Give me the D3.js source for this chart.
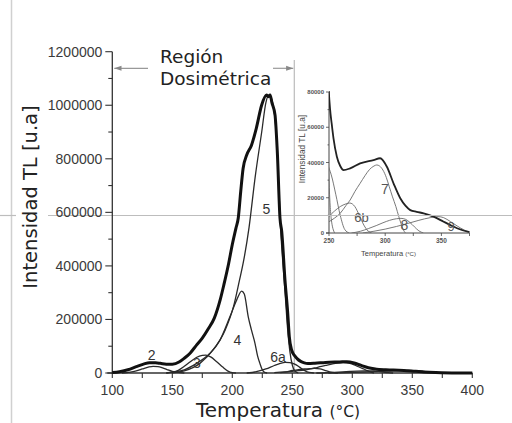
<!DOCTYPE html>
<html><head><meta charset="utf-8">
<script src="https://cdn.jsdelivr.net/npm/d3@7"></script>
<style>body{margin:0;background:#fff}svg{display:block}</style>
</head><body>
<svg id="c" width="512" height="423"></svg>
<script>
// ---- data (temperature °C, intensity u.a.) ----
const xTicksMain = [100,150,200,250,300,350,400];
const yTicksMain = [0,200000,400000,600000,800000,1000000,1200000];
const xTicksInset = [250,300,350];
const yTicksInset = [0,20000,40000,60000,80000];

const totalT = [100,106,113,120,126,131,136,140,145,150,156,160,165,170,175,180,185,190,193,197,200,203,205,207,209,212,216,220,224.5,228.5,230,231.5,233,235.6,237.5,239.75,241.2,243.9,246.2,247.5,249.5,251,252.4,254,257,260,263,268.8,277.7,289.6,295.5,301.5,307.4,313.4,318,322.3,328,334.2,343,352,358,363.9,374.3,385,395,400];
const totalV = [1500,5000,12000,23500,33000,38500,38000,36000,33000,33000,42000,55000,75000,103000,130000,165000,205000,275000,330000,410000,480000,540000,580000,677000,764000,814000,851000,914000,1001000,1038000,1032000,1038000,1010000,964000,827000,578000,528000,347000,223000,136000,85000,70000,62000,53700,43300,38000,35700,36700,39500,41400,42400,37600,28200,19700,15500,13000,12000,11200,9300,6400,4500,2700,700,200,0,0];

const p2T = [108,115,120,125,130,134,138,142,146,150,155,160];
const p2V = [0,3000,8000,15000,22000,25000,24000,19000,12000,6000,2000,0];

const p3T = [145,150,155,160,165,170,175,178,182,187,192,196,200,203];
const p3V = [0,3000,10000,25000,42000,58000,66000,67000,60000,42000,22000,8000,1000,0];

const p4T = [145,150,160,170.3,181.4,189.75,198,203.7,207.8,210,213.3,216,218.9,221,223,225,227,229];
const p4V = [0,3000,12000,36000,73600,123000,210000,273000,306000,295000,210000,160000,111000,65000,36000,12000,2000,0];

const p5T = [150,160,173,184,194,201,206,209,214,219,224.5,228,230,232,236,238,240,242,244,246,248,250,252,255];
const p5V = [1000,8000,36000,86000,160000,248000,347000,409000,545000,730000,900000,1010000,1035000,1030000,930000,780000,560000,420000,300000,170000,80000,30000,8000,0];

const p6aT = [212,220,228,235,240,244,248,252,256,260,264,268];
const p6aV = [0,5000,15000,28000,36000,40000,39000,33000,22000,10000,2000,0];

const p6bT = [240,245,250,255,260,265,268.5,273,277,281,285,288];
const p6bV = [1500,4000,9300,12500,15000,16500,17000,15000,10000,4500,1000,0];

const p7T = [235,240,245,250,255,260,265,268.8,273,277.7,282,286,290,292.5,295,298,301,303.6,306.5,309.5,312,314,316,318];
const p7V = [1500,3000,4500,6400,8500,11200,15500,18700,23500,28200,32500,36000,38000,38600,38000,35700,31500,26300,20500,15000,9500,5500,2000,0];

const p8T = [270,278,285,292,298,304,310,314,318,322,326,330,334];
const p8V = [0,1000,2500,4200,5800,7200,8100,8300,7800,6000,3500,1200,0];

const p9T = [280,290,300,310,320,330,340,347,352,358,364,370,375];
const p9V = [0,1000,2200,3700,5400,7200,8700,9300,8700,6500,4000,1800,500];

const mainLabels = ["2","3","4","5","6a"];
const insetLabels = ["6b","7","8","9"];

// ---- drawing ----
const svg = d3.select("#c");
const FONT_SANS = "DejaVu Sans, Verdana, sans-serif";
const FONT_AX = "Liberation Sans, Arial, sans-serif";

const zip = (t,v) => t.map((d,i)=>[d,v[i]]);

// page decorations
svg.append("line").attr("x1",11.5).attr("x2",11.5).attr("y1",0).attr("y2",423).attr("stroke","#d0d0d0").attr("stroke-width",1.5);
svg.append("line").attr("x1",0).attr("x2",16).attr("y1",215.5).attr("y2",215.5).attr("stroke","#bdbdbd").attr("stroke-width",1.2);
svg.append("line").attr("x1",48).attr("x2",512).attr("y1",215.5).attr("y2",215.5).attr("stroke","#bdbdbd").attr("stroke-width",1.2);

// main scales
const x = d3.scaleLinear().domain([100,400]).range([112.3,472.3]);
const y = d3.scaleLinear().domain([0,1200000]).range([373,51.7]);

// region line
svg.append("line").attr("x1",x(250)+2).attr("x2",x(250)+2).attr("y1",60).attr("y2",373).attr("stroke","#bbb").attr("stroke-width",1.2);

// axes
const yAxis = d3.axisLeft(y).tickValues(d3.range(0,1200001,100000)).tickSize(0).tickFormat(d => yTicksMain.includes(d) ? d : "");
const gy = svg.append("g").attr("transform",`translate(${x(100)},0)`);
gy.append("line").attr("x1",0).attr("x2",0).attr("y1",y(1200000)).attr("y2",y(0)+1).attr("stroke","#333").attr("stroke-width",1.3);
d3.range(0,1200001,100000).forEach(v=>{
  const major = yTicksMain.includes(v);
  gy.append("line").attr("x1",major?-7:-4).attr("x2",0).attr("y1",y(v)).attr("y2",y(v)).attr("stroke","#333").attr("stroke-width",1.1);
});
yTicksMain.forEach(v=>{
  gy.append("text").attr("x",-10).attr("y",y(v)).attr("dy","0.35em").attr("text-anchor","end")
    .attr("font-family",FONT_AX).attr("font-size",14).attr("fill","#3a3a3a").text(v);
});
const gx = svg.append("g").attr("transform",`translate(0,${y(0)})`);
gx.append("line").attr("x1",x(100)-5).attr("x2",x(400)).attr("y1",0).attr("y2",0).attr("stroke","#333").attr("stroke-width",1.3);
d3.range(100,401,25).forEach(t=>{
  gx.append("line").attr("x1",x(t)).attr("x2",x(t)).attr("y1",0).attr("y2",5).attr("stroke","#333").attr("stroke-width",1.1);
});
xTicksMain.forEach(t=>{
  gx.append("text").attr("x",x(t)).attr("y",22).attr("text-anchor","middle")
    .attr("font-family",FONT_AX).attr("font-size",14).attr("fill","#3a3a3a").text(t);
});

// axis titles
svg.append("text").attr("transform","translate(37,197) rotate(-90)").attr("text-anchor","middle")
  .attr("font-family",FONT_SANS).attr("font-size",19.5).attr("fill","#222").text("Intensidad TL [u.a]");
const xl = svg.append("text").attr("x",196).attr("y",416.5).attr("font-family",FONT_SANS).attr("fill","#222");
xl.append("tspan").attr("font-size",20).text("Temperatura ");
xl.append("tspan").attr("font-size",15.5).text("(°C)");

// region arrow
svg.append("defs").html(`<marker id="ah" viewBox="0 0 10 10" refX="10" refY="5" markerWidth="6" markerHeight="6" orient="auto-start-reverse"><path d="M0,1.5 L10,5 L0,8.5 z" fill="#888"/></marker>`);
svg.append("line").attr("x1",x(100)+2).attr("x2",148).attr("y1",68.3).attr("y2",68.3).attr("stroke","#999").attr("stroke-width",1.2).attr("marker-start","url(#ah)");
svg.append("line").attr("x1",273).attr("x2",x(250)+1).attr("y1",68.3).attr("y2",68.3).attr("stroke","#999").attr("stroke-width",1.2).attr("marker-end","url(#ah)");
svg.append("text").attr("x",160).attr("y",63).attr("font-family",FONT_SANS).attr("font-size",18.5).attr("fill","#222").text("Región");
svg.append("text").attr("x",160).attr("y",85).attr("font-family",FONT_SANS).attr("font-size",18.5).attr("fill","#222").text("Dosimétrica");

// main curves
const line = d3.line().x(d=>x(d[0])).y(d=>y(d[1])).curve(d3.curveMonotoneX);
const comps = [[p2T,p2V],[p3T,p3V],[p4T,p4V],[p5T,p5V],[p6aT,p6aV],[p6bT,p6bV],[p7T,p7V],[p8T,p8V],[p9T,p9V]];
comps.forEach(([t,v])=>{
  svg.append("path").attr("d",line(zip(t,v))).attr("fill","none").attr("stroke","#2a2a2a").attr("stroke-width",1.3);
});
svg.append("path").attr("d",line(zip(totalT,totalV))).attr("fill","none").attr("stroke","#111").attr("stroke-width",3).attr("stroke-linejoin","round");

// main labels
const mainLabelPos = [[151.7,360],[197,368],[237.5,345],[266.5,214],[278,362]];
mainLabels.forEach((s,i)=>{
  svg.append("text").attr("x",mainLabelPos[i][0]).attr("y",mainLabelPos[i][1]).attr("text-anchor","middle")
    .attr("font-family",FONT_AX).attr("font-size",14).attr("fill","#333").text(s);
});

// ---- inset ----
const xi = d3.scaleLinear().domain([250,375]).range([329,469.5]);
const yi = d3.scaleLinear().domain([0,80000]).range([233,92]);
const gi = svg.append("g");
gi.append("rect").attr("x",326).attr("y",84).attr("width",150).attr("height",152).attr("fill","#fff");
svg.append("line").attr("x1",48).attr("x2",512).attr("y1",215.5).attr("y2",215.5).attr("stroke","#bdbdbd").attr("stroke-width",1.2).attr("opacity",0);
svg.select("defs").append("clipPath").attr("id","ic").append("rect").attr("x",xi(250)).attr("y",yi(80000)-1).attr("width",xi(375)-xi(250)).attr("height",yi(0)-yi(80000)+1);
// inset axes
gi.append("line").attr("x1",xi(250)).attr("x2",xi(250)).attr("y1",yi(80000)).attr("y2",yi(0)).attr("stroke","#444").attr("stroke-width",1);
gi.append("line").attr("x1",xi(250)-3).attr("x2",xi(375)).attr("y1",yi(0)).attr("y2",yi(0)).attr("stroke","#444").attr("stroke-width",1);
d3.range(0,80001,10000).forEach(v=>{
  const major = yTicksInset.includes(v);
  gi.append("line").attr("x1",xi(250)-(major?3:1.5)).attr("x2",xi(250)).attr("y1",yi(v)).attr("y2",yi(v)).attr("stroke","#444").attr("stroke-width",0.8);
});
yTicksInset.forEach(v=>{
  gi.append("text").attr("x",xi(250)-5).attr("y",yi(v)).attr("dy","0.35em").attr("text-anchor","end")
    .attr("font-family",FONT_AX).attr("font-size",6).attr("font-weight","bold").attr("fill","#555").text(v);
});
d3.range(250,376,25).forEach(t=>{
  gi.append("line").attr("x1",xi(t)).attr("x2",xi(t)).attr("y1",yi(0)).attr("y2",yi(0)+3).attr("stroke","#444").attr("stroke-width",0.8);
});
xTicksInset.forEach(t=>{
  gi.append("text").attr("x",xi(t)).attr("y",yi(0)+10).attr("text-anchor","middle")
    .attr("font-family",FONT_AX).attr("font-size",6.5).attr("font-weight","bold").attr("fill","#555").text(t);
});
gi.append("text").attr("transform",`translate(305,149) rotate(-90)`).attr("text-anchor","middle")
  .attr("font-family",FONT_AX).attr("font-size",8.3).attr("fill","#444").text("Intensidad TL [u.a]");
const ixl = gi.append("text").attr("x",361).attr("y",255.5).attr("font-family",FONT_AX).attr("fill","#444");
ixl.append("tspan").attr("font-size",7.5).text("Temperatura ");
ixl.append("tspan").attr("font-size",6).text("(°C)");

const linei = d3.line().x(d=>xi(d[0])).y(d=>yi(d[1])).curve(d3.curveMonotoneX);
const gic = gi.append("g").attr("clip-path","url(#ic)");
comps.forEach(([t,v])=>{
  gic.append("path").attr("d",linei(zip(t,v))).attr("fill","none").attr("stroke","#6a6a6a").attr("stroke-width",0.9);
});
gic.append("path").attr("d",linei(zip(totalT,totalV))).attr("fill","none").attr("stroke","#222").attr("stroke-width",1.8);
// page rule crossing inset
svg.append("line").attr("x1",290).attr("x2",512).attr("y1",215.5).attr("y2",215.5).attr("stroke","#bdbdbd").attr("stroke-width",1.2);

const insetLabelPos = [[361.5,222],[385,194],[404.5,229.5],[451,231]];
const insetLabelSize = [13,14,14,13];
insetLabels.forEach((s,i)=>{
  gi.append("text").attr("x",insetLabelPos[i][0]).attr("y",insetLabelPos[i][1]).attr("text-anchor","middle")
    .attr("font-family",FONT_AX).attr("font-size",insetLabelSize[i]).attr("fill","#555").text(s);
});
</script>
</body></html>
